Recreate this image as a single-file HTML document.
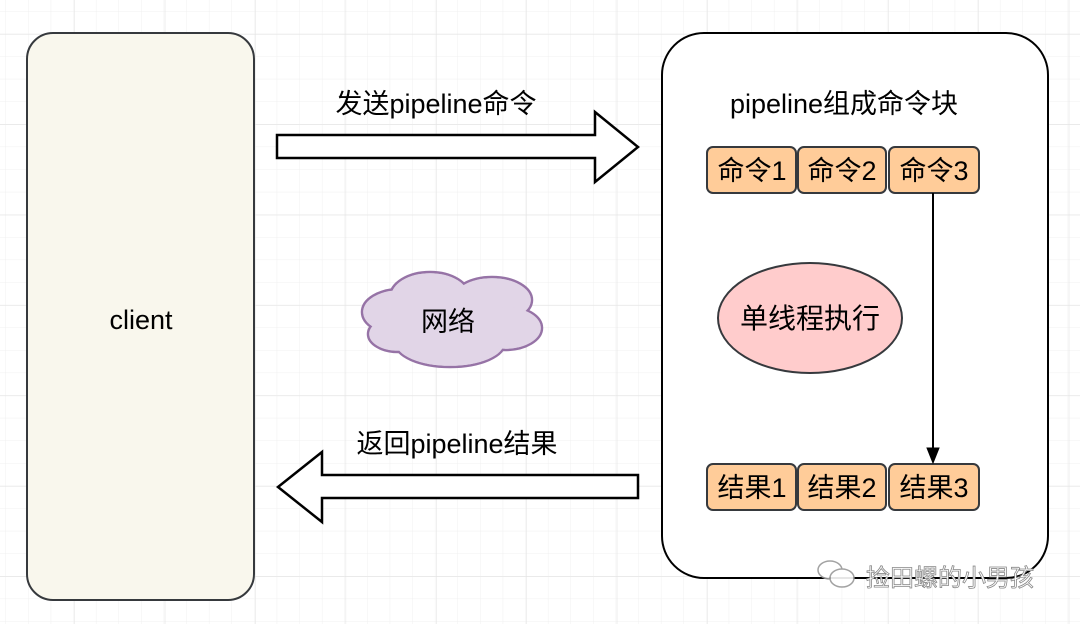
<!DOCTYPE html>
<html><head><meta charset="utf-8"><style>
html,body{margin:0;padding:0;background:#fff}
svg{display:block}
text{font-family:"Liberation Sans","Noto Sans CJK SC",sans-serif;fill:#000}
</style></head><body>
<svg width="1080" height="624" viewBox="0 0 1080 624" xmlns="http://www.w3.org/2000/svg">
<defs>
<pattern id="minor" x="6" y="11.5" width="22.6" height="22.6" patternUnits="userSpaceOnUse">
<path d="M22.6 0V22.6M0 22.6H22.6" fill="none" stroke="#f0f0f0" stroke-width="1"/>
</pattern>
<pattern id="major" x="-16" y="34" width="90.4" height="90.4" patternUnits="userSpaceOnUse">
<path d="M0 0V90.4M0 0H90.4" fill="none" stroke="#e2e2e2" stroke-width="1"/>
</pattern>
</defs>
<rect width="1080" height="624" fill="url(#minor)"/>
<rect width="1080" height="624" fill="url(#major)"/>

<rect x="27" y="33" width="227" height="567" rx="26" fill="#f9f7ed" stroke="#36393d" stroke-width="2"/>
<text x="141" y="329" font-size="27" text-anchor="middle">client</text>

<rect x="662" y="33" width="386" height="545" rx="42" fill="#fff" stroke="#000" stroke-width="2"/>
<text x="844" y="113" font-size="27" text-anchor="middle">pipeline组成命令块</text>

<path d="M277 135H595V112L638 147L595 182V158H277Z" fill="#fff" stroke="#000" stroke-width="2.5"/>
<text x="436" y="113" font-size="27" text-anchor="middle">发送pipeline命令</text>

<path d="M638 475H322V452L278 487L322 522V498H638Z" fill="#fff" stroke="#000" stroke-width="2.5"/>
<text x="457" y="453" font-size="27" text-anchor="middle">返回pipeline结果</text>

<g stroke="#9673a6" stroke-width="2.5" fill="#e1d5e7">
<ellipse cx="400" cy="312" rx="38" ry="23"/>
<ellipse cx="430" cy="297" rx="40" ry="25"/>
<ellipse cx="492" cy="300" rx="40" ry="23"/>
<ellipse cx="505" cy="328" rx="37" ry="22"/>
<ellipse cx="398" cy="334" rx="30" ry="18"/>
<ellipse cx="450" cy="343" rx="55" ry="24"/>
</g>
<g fill="#e1d5e7">
<ellipse cx="400" cy="312" rx="36.8" ry="21.8"/>
<ellipse cx="430" cy="297" rx="38.8" ry="23.8"/>
<ellipse cx="492" cy="300" rx="38.8" ry="21.8"/>
<ellipse cx="505" cy="328" rx="35.8" ry="20.8"/>
<ellipse cx="398" cy="334" rx="28.8" ry="16.8"/>
<ellipse cx="450" cy="343" rx="53.8" ry="22.8"/>
<rect x="400" y="300" width="100" height="40"/>
</g>
<text x="448" y="331" font-size="27" text-anchor="middle">网络</text>

<g fill="#ffcc99" stroke="#36393d" stroke-width="2">
<rect x="707" y="147" width="89" height="46" rx="6"/>
<rect x="798" y="147" width="88" height="46" rx="6"/>
<rect x="889" y="147" width="90" height="46" rx="6"/>
<rect x="707" y="464" width="89" height="46" rx="6"/>
<rect x="798" y="464" width="88" height="46" rx="6"/>
<rect x="889" y="464" width="90" height="46" rx="6"/>
</g>
<g font-size="27" text-anchor="middle">
<text x="752" y="180">命令1</text><text x="842" y="180">命令2</text><text x="934" y="180">命令3</text>
<text x="752" y="497">结果1</text><text x="842" y="497">结果2</text><text x="934" y="497">结果3</text>
</g>

<ellipse cx="810" cy="318" rx="92" ry="55" fill="#ffcccc" stroke="#36393d" stroke-width="2"/>
<text x="810" y="328" font-size="28" text-anchor="middle">单线程执行</text>

<line x1="933" y1="193" x2="933" y2="450" stroke="#000" stroke-width="2"/>
<path d="M927 448L933 463L939 448Z" fill="#000" stroke="#000" stroke-width="1"/>

<g opacity="0.9">
<ellipse cx="830" cy="570" rx="12" ry="9" fill="#fff" stroke="#999" stroke-width="1.5"/>
<ellipse cx="842" cy="578" rx="12" ry="9" fill="#fff" stroke="#999" stroke-width="1.5"/>
</g>
<text x="950" y="586" font-size="24" text-anchor="middle" style="fill:#fff;stroke:#888;stroke-width:0.8">捡田螺的小男孩</text>
</svg>
</body></html>
